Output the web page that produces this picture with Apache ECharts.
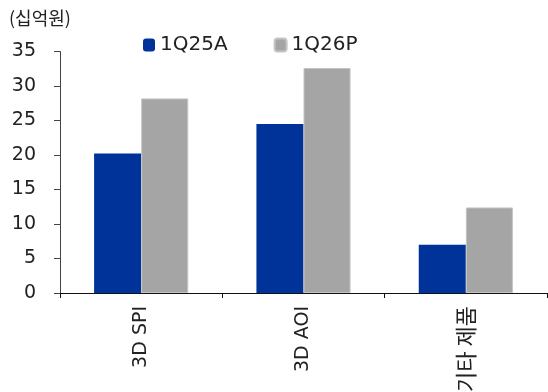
<!DOCTYPE html>
<html>
<head>
<meta charset="utf-8">
<script src="https://cdn.jsdelivr.net/npm/echarts@6/dist/echarts.min.js"></script>
<style>
  html, body { margin: 0; padding: 0; background: #fff; }
  #chart { width: 548px; height: 392px; }
</style>
</head>
<body>
<div id="chart"></div>
<script>
// Revenue by product line (unit: 십억원)
const categories = ['3D SPI', '3D AOI', '기타 제품'];
const series1Q25A = [20.2, 24.5, 7.0];
const series1Q26P = [28.2, 32.6, 12.4];
const yTicks = [0, 5, 10, 15, 20, 25, 30, 35];
const unitLabel = '(십억원)';

const FONT = 'DejaVu Sans, "Noto Sans CJK KR", sans-serif';
const HANGUL = /[\uAC00-\uD7A3]/;
const chart = echarts.init(document.getElementById('chart'), null, { renderer: 'canvas' });

chart.setOption({
  animation: false,
  backgroundColor: '#ffffff',
  textStyle: { fontFamily: FONT },
  title: {
    text: unitLabel,
    left: 4,
    top: 4,
    textStyle: { fontFamily: '"Noto Sans CJK KR", sans-serif', fontSize: 18, fontWeight: 'normal', color: '#222' }
  },
  legend: {
    left: 143,
    top: 35,
    padding: 0,
    itemWidth: 12,
    itemHeight: 13,
    itemGap: 46,
    textStyle: { fontFamily: FONT, fontSize: 20, color: '#222', padding: [0, 0, 0, 0] },
    data: ['1Q25A', '1Q26P']
  },
  grid: { left: 60, right: 1, top: 51.5, bottom: 99, containLabel: false, outerBoundsMode: 'none' },
  xAxis: {
    type: 'category',
    data: categories,
    axisLine: { lineStyle: { color: '#111', width: 1 } },
    axisTick: { show: true, length: 5, lineStyle: { color: '#111' } },
    axisLabel: {
      rotate: 90,
      margin: 13,
      fontFamily: FONT,
      fontSize: 19,
      color: '#222',
      formatter: v => HANGUL.test(v) ? '{k|' + v + '}' : v,
      rich: { k: { fontFamily: '"Noto Sans CJK KR", sans-serif', fontSize: 22, color: '#222' } }
    },
    splitLine: { show: false }
  },
  yAxis: {
    type: 'value',
    min: yTicks[0],
    max: yTicks[yTicks.length - 1],
    interval: yTicks[1] - yTicks[0],
    axisLine: { show: true, lineStyle: { color: '#444', width: 1 } },
    axisTick: { show: true, length: 6, lineStyle: { color: '#444' } },
    axisLabel: { margin: 24, fontFamily: FONT, fontSize: 19, color: '#222' },
    splitLine: { show: false }
  },
  series: [
    {
      name: '1Q25A',
      type: 'bar',
      data: series1Q25A,
      barGap: '0%',
      barCategoryGap: '42%',
      itemStyle: { color: '#003399' }
    },
    {
      name: '1Q26P',
      type: 'bar',
      data: series1Q26P,
      barGap: '0%',
      barCategoryGap: '42%',
      itemStyle: { color: '#a5a5a5', borderColor: '#c4c4c4', borderWidth: 1 }
    }
  ]
});
</script>
</body>
</html>
